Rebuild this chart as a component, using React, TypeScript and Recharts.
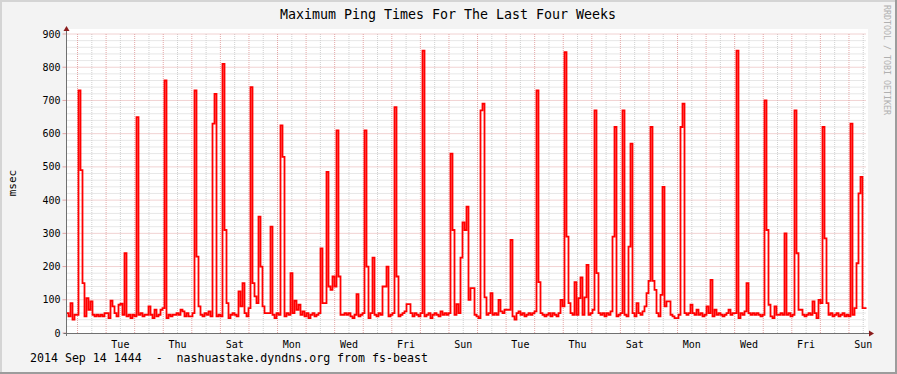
import React from 'react';
import { LineChart, Line, XAxis, YAxis, CartesianGrid } from 'recharts';

const W = 897;
const H = 374;
const FONT = '"DejaVu Sans Mono", monospace';

// 4 weeks ending Sun Sep 14 14:44, one MAX sample every 1.68 h (400 samples)
const HOURS = 672;
const STEP = HOURS / 400;
const FIRST_MIDNIGHT = 9.2667; // Mon Aug 18 00:00, hours after start

// max ping (msec), 20 samples per row
const maxPing = [
  60, 50, 90, 40, 55, 55, 730, 490, 150, 50, 105, 70, 95, 55, 50, 55, 50, 55, 50, 60,
  60, 45, 97, 80, 60, 50, 85, 88, 55, 240, 50, 55, 45, 55, 50, 650, 55, 60, 50, 55,
  55, 80, 55, 45, 70, 50, 55, 70, 75, 760, 45, 55, 50, 55, 55, 60, 55, 70, 65, 50,
  60, 50, 50, 60, 730, 230, 80, 55, 50, 60, 55, 65, 50, 630, 720, 50, 55, 50, 810, 310,
  90, 45, 55, 60, 55, 50, 125, 80, 150, 60, 50, 75, 740, 150, 110, 90, 350, 200, 80, 60,
  60, 60, 320, 55, 45, 60, 55, 625, 530, 50, 60, 55, 180, 60, 97, 70, 85, 55, 65, 50,
  60, 45, 55, 60, 50, 55, 60, 255, 90, 90, 485, 140, 130, 170, 140, 610, 170, 55, 55, 60,
  55, 60, 50, 45, 55, 117, 50, 55, 60, 610, 200, 45, 60, 227, 55, 50, 60, 55, 140, 140,
  200, 50, 55, 60, 680, 170, 50, 55, 60, 65, 87, 87, 60, 50, 60, 55, 50, 60, 850, 50,
  55, 60, 45, 55, 60, 55, 50, 65, 55, 60, 55, 60, 540, 310, 55, 87, 60, 227, 333, 310,
  380, 100, 135, 135, 55, 50, 45, 670, 690, 107, 55, 60, 120, 55, 60, 55, 100, 65, 60, 70,
  70, 70, 280, 50, 40, 60, 65, 55, 60, 50, 55, 60, 55, 60, 65, 730, 153, 60, 55, 50,
  55, 60, 50, 60, 55, 50, 60, 100, 80, 845, 290, 90, 60, 55, 153, 55, 105, 167, 55, 107,
  205, 55, 60, 70, 670, 180, 60, 55, 60, 50, 60, 55, 65, 290, 620, 50, 55, 60, 670, 55,
  50, 260, 570, 60, 50, 90, 60, 55, 65, 80, 120, 157, 620, 157, 130, 60, 50, 115, 440, 80,
  95, 95, 55, 50, 45, 45, 55, 620, 690, 60, 55, 60, 85, 60, 55, 70, 55, 60, 50, 55,
  80, 60, 160, 50, 70, 55, 60, 55, 50, 55, 60, 70, 55, 60, 60, 850, 45, 60, 55, 65,
  150, 60, 55, 60, 55, 60, 55, 50, 55, 700, 310, 85, 50, 45, 80, 55, 55, 60, 55, 300,
  55, 60, 50, 55, 670, 240, 70, 70, 55, 50, 55, 60, 55, 95, 60, 45, 100, 90, 620, 285,
  90, 55, 60, 50, 55, 60, 50, 55, 60, 50, 55, 50, 630, 55, 75, 210, 420, 470, 75, 75,
];

// labels sit at noon of every other day
const dayLabels = ['Tue', 'Thu', 'Sat', 'Mon', 'Wed', 'Fri', 'Sun', 'Tue', 'Thu', 'Sat', 'Mon', 'Wed', 'Fri', 'Sun'];
const yTicks = [0, 100, 200, 300, 400, 500, 600, 700, 800, 900];

const data = maxPing.map((v, i) => ({ t: i * STEP, v }));
data.push({ t: HOURS, v: maxPing[maxPing.length - 1] });

const labelTicks = dayLabels.map((_, k) => FIRST_MIDNIGHT + 36 + 48 * k);
const midnights = Array.from({ length: 28 }, (_, k) => FIRST_MIDNIGHT + 24 * k);
const noons = Array.from({ length: 28 }, (_, k) => FIRST_MIDNIGHT + 12 + 24 * k);
const minorY = Array.from({ length: 45 }, (_, k) => 20 * k).filter((v) => v % 100 !== 0);

const AX = 66.5; // plot left
const AY = 333; // plot bottom

const App: React.FC = () => {
  return (
    <div style={{ position: 'absolute', left: 0, top: 0, width: W, height: H, background: '#f3f3f3' }}>
      <div style={{ position: 'absolute', left: 66, top: 29, width: 802, height: 304, background: '#fff' }} />
      <div style={{ position: 'absolute', left: 0, top: 0 }}>
        <LineChart width={W} height={H} data={data} margin={{ top: 34, right: 30.5, bottom: 0, left: 0.5 }}>
          <CartesianGrid
            stroke="#cfcfcf"
            strokeDasharray="1 1"
            horizontalValues={minorY}
            verticalValues={noons}
            fill="none"
          />
          <CartesianGrid
            stroke="#e3a5a5"
            strokeDasharray="1 1"
            horizontalValues={yTicks.slice(1)}
            verticalValues={midnights}
            fill="none"
          />
          <XAxis
            dataKey="t"
            type="number"
            domain={[0, HOURS]}
            ticks={labelTicks}
            interval={0}
            tickFormatter={(_v: number, i: number) => dayLabels[i]}
            axisLine={false}
            tickLine={false}
            height={41}
            tick={{ fill: '#000', fontSize: 10, fontFamily: FONT }}
          />
          <YAxis
            type="number"
            domain={[0, 900]}
            ticks={yTicks}
            interval={0}
            width={66}
            axisLine={false}
            tickSize={4}
            tickMargin={2}
            tickLine={{ stroke: '#e3a5a5' }}
            tick={{ fill: '#000', fontSize: 10, fontFamily: FONT }}
          />
          <Line
            type="stepAfter"
            dataKey="v"
            stroke="#ff0000"
            strokeWidth={1.8}
            dot={false}
            activeDot={false}
            isAnimationActive={false}
          />
        </LineChart>
      </div>
      <svg
        width={W}
        height={H}
        style={{ position: 'absolute', left: 0, top: 0, pointerEvents: 'none' }}
      >
        <rect x={0} y={0} width={W} height={2} fill="#d4d4d4" />
        <rect x={0} y={0} width={2} height={H} fill="#d4d4d4" />
        <rect x={0} y={H - 2} width={W} height={2} fill="#9c9c9c" />
        <rect x={W - 2} y={0} width={2} height={H} fill="#9c9c9c" />
        <line x1={AX} y1={AY + 3} x2={AX} y2={29} stroke="#707070" strokeWidth={1} />
        <line x1={AX - 3} y1={AY + 0.5} x2={870} y2={AY + 0.5} stroke="#707070" strokeWidth={1} />
        <polygon points={`${AX - 3},31 ${AX + 3},31 ${AX},26`} fill="#8b1c1c" />
        <polygon points={`869,330.5 869,336.5 874,333.5`} fill="#8b1c1c" />
        <text x={448} y={18.5} textAnchor="middle" fontFamily={FONT} fontSize={13.3} fill="#000">
          Maximum Ping Times For The Last Four Weeks
        </text>
        <text
          x={16}
          y={183}
          textAnchor="middle"
          fontFamily={FONT}
          fontSize={11}
          fill="#000"
          transform="rotate(-90 16 183)"
        >
          msec
        </text>
        <text
          x={884}
          y={5}
          fontFamily={FONT}
          fontSize={8.3}
          fill="#b0b0b0"
          transform="rotate(90 884 5)"
        >
          RRDTOOL / TOBI OETIKER
        </text>
        <text x={30} y={362} fontFamily={FONT} fontSize={11.6} fill="#000" style={{ whiteSpace: 'pre' }}>
          {'2014 Sep 14 1444  -  nashuastake.dyndns.org from fs-beast'}
        </text>
      </svg>
    </div>
  );
};

export default App;
